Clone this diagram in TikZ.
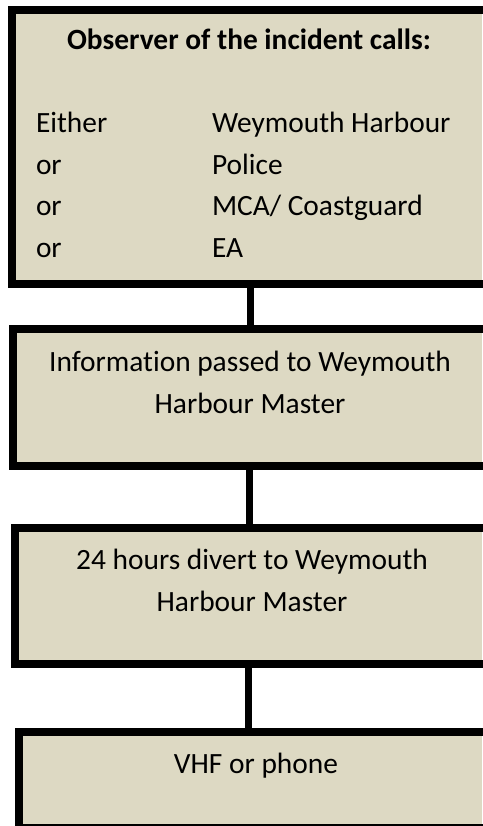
\documentclass[tikz,border=0pt]{standalone}
\usepackage{fontspec}
\setmainfont{Carlito}[RawFeature={-liga;-clig;-dlig}]
\definecolor{boxfill}{HTML}{DDD9C3}
\begin{document}
\begin{tikzpicture}[x=1pt,y=-1pt,
  flowbox/.style={fill=boxfill,rectangle,inner sep=0pt,outer sep=0pt},
  edge/.style={draw=black,line width=8pt,line cap=rect},
  conn/.style={draw=black,line width=7pt},
  txt/.style={inner sep=0pt,outer sep=0pt,font=\fontsize{29.4}{41}\selectfont}]
\path[use as bounding box] (0,0) rectangle (482,826);
\fill[white] (0,0) rectangle (482,826);
% boxes: filled areas reaching the right edge of the picture
\node[flowbox,minimum width=470pt,minimum height=274pt] (b1) at (247,147) {};
\node[flowbox,minimum width=469pt,minimum height=137pt] (b2) at (247.5,397.5) {};
\node[flowbox,minimum width=467.5pt,minimum height=136.5pt] (b3) at (248.25,595.75) {};
\node[flowbox,minimum width=463pt,minimum height=96pt] (b4) at (250.5,780) {};
% borders (left, top, bottom; the right side is cut off)
\draw[edge] (b1.north east) -- (b1.north west) -- (b1.south west) -- (b1.south east);
\draw[edge] (b2.north east) -- (b2.north west) -- (b2.south west) -- (b2.south east);
\draw[edge] (b3.north east) -- (b3.north west) -- (b3.south west) -- (b3.south east);
\draw[edge] (b4.north east) -- (b4.north west) -- (b4.south west) -- (b4.south east);
% connectors
\coordinate (x1) at (250,0);
\coordinate (x2) at (249.5,0);
\coordinate (x3) at (248.5,0);
\draw[conn] (b1.south -| x1) -- (b2.north -| x1);
\draw[conn] (b2.south -| x2) -- (b3.north -| x2);
\draw[conn] (b3.south -| x3) -- (b4.north -| x3);
% texts
\node[txt,anchor=base,font=\fontsize{29.4}{41}\selectfont\bfseries] (t0) at (249,50) {Observer of the incident calls:};
\node[txt,anchor=base west] (l1) at (36,133) {Either};
\node[txt,anchor=base west] (l2) at (36,175) {or};
\node[txt,anchor=base west] (l3) at (36,215) {or};
\node[txt,anchor=base west] (l4) at (36,257) {or};
\node[txt,anchor=base west] (r1) at (212,133) {Weymouth Harbour};
\node[txt,anchor=base west] (r2) at (212,175) {Police};
\node[txt,anchor=base west] (r3) at (212,215) {MCA/ Coastguard};
\node[txt,anchor=base west] (r4) at (212,257) {EA};
\node[txt,anchor=base] (s1) at (250,371) {Information passed to Weymouth};
\node[txt,anchor=base] (s2) at (250,413) {Harbour Master};
\node[txt,anchor=base] (u1) at (252,569) {24 hours divert to Weymouth};
\node[txt,anchor=base] (u2) at (252,611) {Harbour Master};
\node[txt,anchor=base] (v1) at (256,773) {VHF or phone};
\end{tikzpicture}
\end{document}
